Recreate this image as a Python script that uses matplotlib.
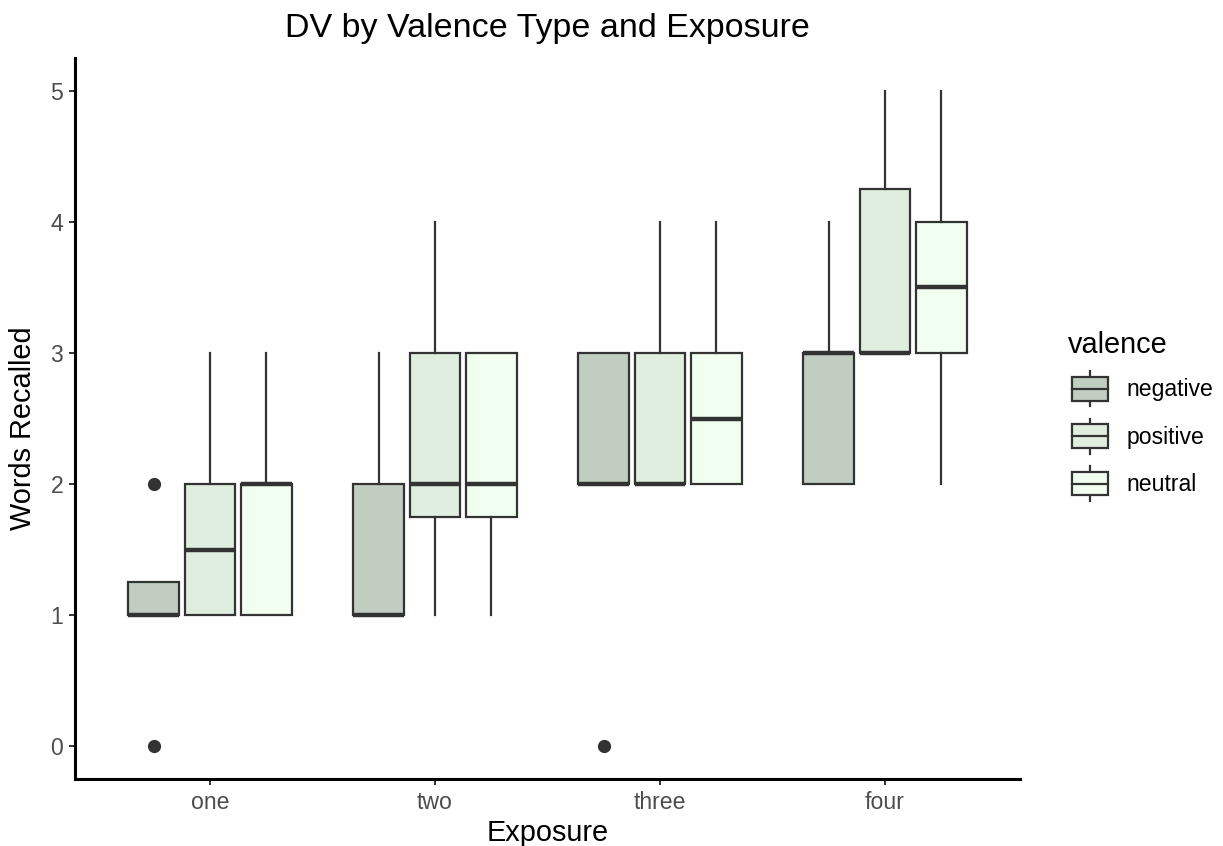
import numpy as np
import matplotlib
matplotlib.use('Agg')
import matplotlib.pyplot as plt
from matplotlib.patches import Patch, Rectangle
from matplotlib.lines import Line2D
from matplotlib.legend_handler import HandlerBase

plt.rcParams['font.family'] = ['Liberation Sans', 'DejaVu Sans']

exposure = ['one', 'two', 'three', 'four']
valence = ['negative', 'positive', 'neutral']
fills = ['#C1CDC1', '#E0EEE0', '#F0FFF0']

# rows = exposure, columns = valence (negative, positive, neutral)
whis_lo = [[1, 1, 1], [1, 1, 1], [2, 2, 2], [2, 3, 2]]
q1 = [[1, 1, 1], [1, 1.75, 1.75], [2, 2, 2], [2, 3, 3]]
med = [[1, 1.5, 2], [1, 2, 2], [2, 2, 2.5], [3, 3, 3.5]]
q3 = [[1.25, 2, 2], [2, 3, 3], [3, 3, 3], [3, 4.25, 4]]
whis_hi = [[1.25, 3, 3], [3, 4, 3], [3, 4, 4], [4, 5, 5]]
outliers = [[[0, 2], [], []], [[], [], []], [[0], [], []], [[], [], []]]

dark = '#333333'

fig = plt.figure(figsize=(12.23, 8.46), dpi=100)
ax = fig.add_axes([75/1223, 1 - 779/846, (1020-75)/1223, (779-58)/846])

offsets = [-0.25, 0, 0.25]
for i in range(len(exposure)):
    for j in range(len(valence)):
        st = [dict(med=med[i][j], q1=q1[i][j], q3=q3[i][j],
                   whislo=whis_lo[i][j], whishi=whis_hi[i][j],
                   fliers=outliers[i][j])]
        ax.bxp(st, positions=[i + 1 + offsets[j]], widths=0.225,
               patch_artist=True, showcaps=False,
               boxprops=dict(facecolor=fills[j], edgecolor=dark, linewidth=1.6),
               medianprops=dict(color=dark, linewidth=3.2, solid_capstyle='butt'),
               whiskerprops=dict(color=dark, linewidth=1.6),
               flierprops=dict(marker='o', markerfacecolor=dark, markeredgecolor=dark,
                               markersize=8.5))

ax.set_xlim(0.4, 4.6)
ax.set_ylim(-0.25, 5.25)
ax.set_xticks(range(1, 5))
ax.set_xticklabels(exposure)
ax.set_yticks(range(0, 6))
for s in ['top', 'right']:
    ax.spines[s].set_visible(False)
for s in ['left', 'bottom']:
    ax.spines[s].set_linewidth(2.2)
    ax.spines[s].set_color('black')
ax.tick_params(colors=dark, labelcolor='#4D4D4D', labelsize=16.6,
               width=1.4, length=4.5, pad=4)

fig.text(547/1223, 1 - 37/846, 'DV by Valence Type and Exposure', fontsize=24.5,
         ha='center', va='baseline')
fig.text(548/1223, 1 - 841/846, 'Exposure', fontsize=20.8, ha='center', va='baseline')
fig.text(23/1223, 418/846, 'Words Recalled', fontsize=20.8, ha='center', va='center',
         rotation=90)


class BoxHandler(HandlerBase):
    def create_artists(self, legend, orig_handle, xdescent, ydescent, width, height,
                       fontsize, trans):
        x0 = -xdescent + width * 0.1
        w = width * 0.9
        y0 = -ydescent
        cx = x0 + w / 2
        b0 = y0 + height * 6 / 37
        b1 = y0 + height * 31 / 37
        wl = Line2D([cx, cx], [y0, b0], color=dark, lw=1.6, transform=trans)
        wh = Line2D([cx, cx], [b1, y0 + height], color=dark, lw=1.6, transform=trans)
        r = Rectangle((x0, b0), w, b1 - b0, facecolor=orig_handle.get_facecolor(),
                      edgecolor=dark, lw=1.6, transform=trans)
        m = Line2D([x0, x0 + w], [(b0 + b1) / 2] * 2, color=dark, lw=1.6,
                   transform=trans)
        return [wl, wh, r, m]


handles = [Patch(facecolor=c) for c in fills]
leg = fig.legend(handles, valence, handler_map={Patch: BoxHandler()},
                 loc='upper left', bbox_to_anchor=(1068/1223, 1 - 331/846),
                 frameon=False, fontsize=16.6, title='valence',
                 title_fontproperties={'size': 20.8}, alignment='left',
                 handlelength=1.74, handleheight=1.95, labelspacing=0.54,
                 handletextpad=0.8, borderpad=0, borderaxespad=0)

fig.savefig('out.png', dpi=100)
